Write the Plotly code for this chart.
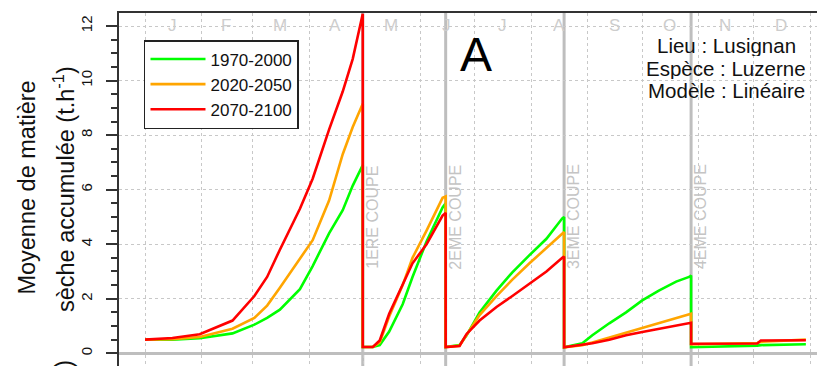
import plotly.graph_objects as go

# ---- data -------------------------------------------------------------
days = [1, 16, 31, 49, 61, 68, 75, 86, 93, 102, 109.5, 115, 120.5,
        120.5, 126, 129.8, 135, 142.4, 147.8, 155.5, 164.3, 166,
        166, 173.6, 177.4, 184.6, 193.9, 202.6, 212, 221.3, 230, 231,
        231, 241, 246.5, 255.8, 265, 273.9, 283, 292.5, 299.6, 300.7,
        300.7, 320, 337, 339, 350, 363.7]

s_1970_2000 = [0.5, 0.5, 0.55, 0.73, 1.05, 1.3, 1.6, 2.35, 3.2, 4.4, 5.25, 6.15, 6.9,
               0.23, 0.23, 0.3, 0.8, 1.8, 2.8, 4.1, 5.35, 5.5,
               0.23, 0.3, 0.65, 1.5, 2.3, 2.97, 3.6, 4.2, 4.95, 5.0,
               0.22, 0.37, 0.66, 1.1, 1.5, 1.94, 2.3, 2.63, 2.8, 2.85,
               0.22, 0.24, 0.28, 0.3, 0.32, 0.33]

s_2020_2050 = [0.5, 0.52, 0.6, 0.9, 1.3, 1.75, 2.4, 3.45, 4.15, 5.6, 7.3, 8.3, 9.15,
               0.23, 0.23, 0.4, 1.35, 2.5, 3.5, 4.5, 5.7, 5.75,
               0.23, 0.28, 0.68, 1.4, 2.1, 2.7, 3.3, 3.85, 4.4, 4.45,
               0.22, 0.3, 0.4, 0.58, 0.75, 0.93, 1.1, 1.28, 1.42, 1.45,
               0.33, 0.35, 0.38, 0.42, 0.45, 0.5]

s_2070_2100 = [0.5, 0.56, 0.7, 1.2, 2.1, 2.8, 3.8, 5.3, 6.4, 8.2, 9.6, 10.8, 12.45,
               0.23, 0.23, 0.47, 1.45, 2.55, 3.3, 4.0, 5.05, 5.15,
               0.23, 0.27, 0.7, 1.2, 1.7, 2.1, 2.55, 3.0, 3.5, 3.55,
               0.22, 0.3, 0.37, 0.5, 0.66, 0.78, 0.9, 1.0, 1.1, 1.12,
               0.35, 0.35, 0.36, 0.47, 0.47, 0.48]

series_names = ["1970-2000", "2020-2050", "2070-2100"]
series_values = [s_1970_2000, s_2020_2050, s_2070_2100]
series_colors = ["#00FF00", "#FFA500", "#FF0000"]

cut_days = [120.5, 166, 231, 300.7]
cut_labels = ["1ERE COUPE", "2EME COUPE", "3EME COUPE", "4EME COUPE"]

month_starts = [1, 32, 60, 91, 121, 152, 182, 213, 244, 274, 305, 335, 366]
month_mid = [16, 45.5, 75, 105.5, 136, 166.5, 197, 228, 258.5, 289, 319.5, 350]
month_letters = ["J", "F", "M", "A", "M", "J", "J", "A", "S", "O", "N", "D"]

y_ticks = [0, 2, 4, 6, 8, 10, 12]

info_lines = ["Lieu : Lusignan", "Espèce : Luzerne", "Modèle : Linéaire"]

FONT = "Liberation Sans, Arial, sans-serif"

# ---- figure -----------------------------------------------------------
fig = go.Figure()
for name, vals, col in zip(series_names, series_values, series_colors):
    fig.add_trace(go.Scatter(x=days, y=vals, mode="lines", name=name,
                             line=dict(color=col, width=2.6)))

shapes = []
for d in cut_days:
    shapes.append(dict(type="line", xref="x", yref="paper", x0=d, x1=d, y0=0, y1=1,
                       line=dict(color="#BEBEBE", width=3), layer="between"))

annotations = []
for d, lab in zip(cut_days, cut_labels):
    annotations.append(dict(x=d + 5.5, y=5, xref="x", yref="y", text=lab, showarrow=False,
                            xanchor="center", yanchor="middle",
                            textangle=-90, font=dict(size=16, color="#C4C4C4", family=FONT)))
for d, m in zip(month_mid, month_letters):
    annotations.append(dict(x=d, y=12.05, xref="x", yref="y", text=m, showarrow=False,
                            xanchor="center", yanchor="middle", height=16,
                            font=dict(size=17, color="#CDCDCD", family=FONT)))
annotations.append(dict(x=182.7, y=10.94, xref="x", yref="y", text="A", showarrow=False,
                        xanchor="center", yanchor="middle",
                        font=dict(size=48, color="black", family=FONT)))
for t, yv in zip(info_lines, [11.3, 10.44, 9.64]):
    annotations.append(dict(x=319.9, y=yv, xref="x", yref="y", text=t, showarrow=False,
                            xanchor="center", yanchor="middle", height=21,
                            font=dict(size=20.5, color="#111", family=FONT)))
# y-axis title (two lines)
annotations.append(dict(x=-0.130, y=0.506, xref="paper", yref="paper",
                        xanchor="center", yanchor="middle",
                        text="Moyenne de matière", showarrow=False, textangle=-90,
                        font=dict(size=23.5, color="#111", family=FONT)))
annotations.append(dict(x=-0.078, y=0.501, xref="paper", yref="paper",
                        xanchor="center", yanchor="middle",
                        text="sèche accumulée (t.h<sup>-1</sup>)", showarrow=False, textangle=-90,
                        font=dict(size=23.5, color="#111", family=FONT)))
# fragment of the next panel's title
annotations.append(dict(x=-0.078, y=0.006, xref="paper", yref="paper",
                        xanchor="center", yanchor="middle",
                        text=")", showarrow=False, textangle=-90,
                        font=dict(size=23.5, color="#111", family=FONT)))

# the page body has an 8px margin, so the figure is 8px smaller on each axis
fig.update_layout(
    width=817, height=358,
    margin=dict(l=111, r=0, t=5, b=0),
    paper_bgcolor="white", plot_bgcolor="white",
    font=dict(family=FONT, color="#111"),
    showlegend=True,
    legend=dict(x=0.0354, y=0.9235, xanchor="left", yanchor="top",
                bgcolor="white", bordercolor="#222", borderwidth=1.5,
                font=dict(size=17, color="#111", family=FONT),
                itemwidth=55, tracegroupgap=0),
    shapes=shapes,
    annotations=annotations,
    xaxis=dict(range=[-13.3, 374.2], side="top", tickmode="array", tickvals=month_starts,
               showticklabels=False, ticks="", showgrid=True, griddash="dot",
               gridcolor="#C8C8C8", gridwidth=1, zeroline=False, automargin=False,
               showline=True, linecolor="#333", linewidth=2, mirror=False),
    yaxis=dict(range=[-0.466, 12.48], tickmode="array", tickvals=y_ticks,
               ticks="outside", ticklen=11, tickwidth=1.5, tickcolor="#333",
               tickangle=-90, tickfont=dict(size=15, color="#111", family=FONT),
               ticklabelstandoff=8, automargin=False,
               minor=dict(dtick=0.5, tick0=0, ticks="outside", ticklen=6,
                          tickwidth=1.5, tickcolor="#333", showgrid=False),
               showgrid=True, griddash="dot", gridcolor="#C8C8C8", gridwidth=1,
               zeroline=True, zerolinecolor="#BEBEBE", zerolinewidth=3,
               showline=True, linecolor="#333", linewidth=2, mirror=False),
)

fig.write_html("out.html")
